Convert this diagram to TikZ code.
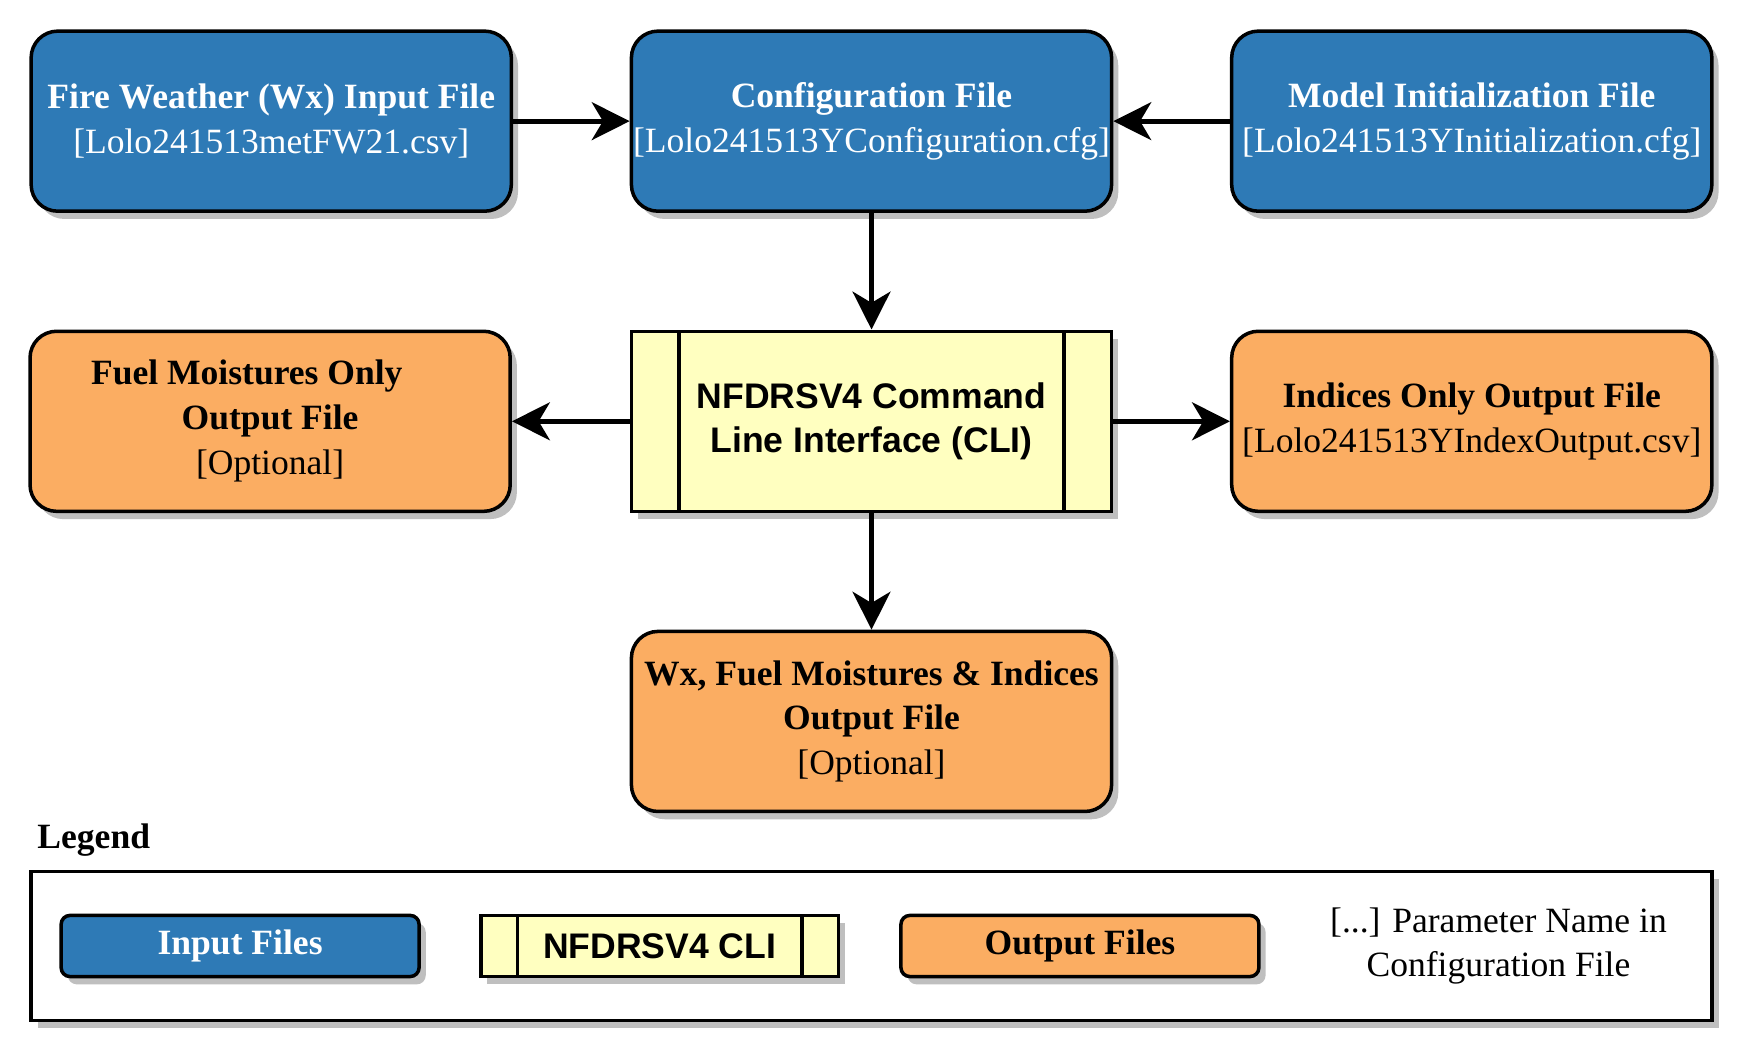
\documentclass[tikz,border=0pt]{standalone}
\usepackage{fontspec}
\setmainfont{Liberation Serif}
\setsansfont{Liberation Sans}
\usetikzlibrary{arrows.meta,shadows}

\definecolor{inblue}{RGB}{46,122,182}
\definecolor{outorange}{RGB}{251,173,98}
\definecolor{cliyellow}{RGB}{255,255,192}

\def\boxfont{\fontsize{9.1}{11.5}\selectfont}

\tikzset{
  box/.style={draw, line width=0.9pt, rounded corners=0.24cm,
    minimum width=4.32cm, minimum height=1.62cm, inner sep=0pt,
    align=center, font=\boxfont,
    drop shadow={shadow xshift=0.06cm, shadow yshift=-0.07cm,
      fill=black!25, opacity=1}},
  infile/.style={box, fill=inblue, text=white},
  outfile/.style={box, fill=outorange},
  clibox/.style={box, sharp corners, fill=cliyellow,
    font=\boxfont\sffamily\bfseries,
    path picture={
      \draw[line width=0.9pt]
        ([xshift=#1]path picture bounding box.north west) --
        ([xshift=#1]path picture bounding box.south west)
        ([xshift=-#1]path picture bounding box.north east) --
        ([xshift=-#1]path picture bounding box.south east);}},
  clibox/.default=0.43cm,
  keybox/.style={minimum width=3.22cm, minimum height=0.55cm},
  flow/.style={line width=1.3pt,
    -{Stealth[length=0.34cm, width=0.34cm, inset=0.1cm]}}
}

\begin{document}
\begin{tikzpicture}

\useasboundingbox (0,0) rectangle (15.68,-9.47);

% input files
\node[infile] (fire) at (2.44,-1.09)
  {\textbf{Fire Weather (Wx) Input File}\\{}[Lolo241513metFW21.csv]};
\node[infile] (config) at (7.84,-1.09)
  {\textbf{Configuration File}\\{}[Lolo241513YConfiguration.cfg]};
\node[infile] (init) at (13.24,-1.09)
  {\textbf{Model Initialization File}\\{}[Lolo241513YInitialization.cfg]};

% the CLI
\node[clibox] (cli) at (7.84,-3.79) {NFDRSV4 Command\\Line Interface (CLI)};

% output files
\node[outfile] (fuel) at (2.43,-3.79)
  {\textbf{Fuel Moistures Only}\hspace*{0.42cm}\\\textbf{Output File}\\{}[Optional]};
\node[outfile] (indices) at (13.24,-3.79)
  {\textbf{Indices Only Output File}\\{}[Lolo241513YIndexOutput.csv]};
\node[outfile] (all) at (7.84,-6.49)
  {\textbf{Wx, Fuel Moistures \& Indices}\\\textbf{Output File}\\{}[Optional]};

% arrows
\draw[flow] (fire) -- (config);
\draw[flow] (init) -- (config);
\draw[flow] (config) -- (cli);
\draw[flow] (cli) -- (fuel);
\draw[flow] (cli) -- (indices);
\draw[flow] (cli) -- (all);

% legend
\node[anchor=west, inner sep=0pt, font=\boxfont\bfseries] (legendtitle)
  at (0.33,-7.56) {Legend};
\node[box, sharp corners, fill=white, line width=1pt, minimum width=15.12cm,
  minimum height=1.34cm] (legend) at (7.84,-8.51) {};
\node[infile, keybox, rounded corners=0.08cm] (keyin) at (2.16,-8.51)
  {\textbf{Input Files}};
\node[clibox=0.33cm, keybox] (keycli) at (5.935,-8.51) {NFDRSV4 CLI};
\node[outfile, keybox, rounded corners=0.08cm] (keyout) at (9.715,-8.51)
  {\textbf{Output Files}};
\node[align=center, inner sep=0pt, font=\boxfont] (keynote) at (13.48,-8.51)
  {[...] Parameter Name in\\Configuration File};

\end{tikzpicture}
\end{document}
